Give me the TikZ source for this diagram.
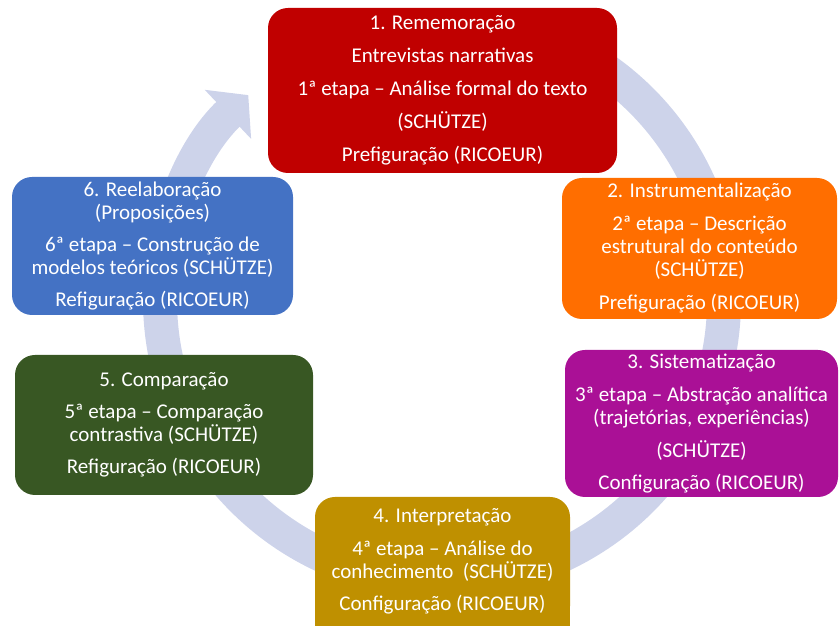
\documentclass[tikz,border=0pt]{standalone}
\usepackage{fontspec}
\setmainfont{Carlito}
\usetikzlibrary{shapes, arrows.meta, positioning}

\definecolor{stagered}{RGB}{192,0,0}
\definecolor{stageorange}{RGB}{255,110,0}
\definecolor{stagemagenta}{RGB}{170,16,150}
\definecolor{stagegold}{RGB}{191,144,0}
\definecolor{stagegreen}{RGB}{56,87,35}
\definecolor{stageblue}{RGB}{68,114,196}
\definecolor{ringblue}{RGB}{205,211,234}

\begin{document}
\begin{tikzpicture}[
    x=1pt, y=1pt
  ]

  % Styles
  \tikzstyle{stage}=[shape=rectangle, rounded corners=20pt, text=white, align=center, inner sep=0pt, font=\fontsize{21}{23}\selectfont]
  \tikzstyle{cycle}=[line width=34pt, ringblue]

  \useasboundingbox (0,0) rectangle (839,626);
  \clip (0,0) rectangle (839,626);

  % Circular arrow behind the stages
  \coordinate (C) at (442,326);
  \draw[cycle, -{Triangle[width=66pt, length=28pt]}] (C) ++(60:282) arc[start angle=60, end angle=-226.6, radius=282];

  % Stages
  \node[stage, fill=stagered, minimum width=349pt, minimum height=165pt] (rememoracao) at (442.5,535.5)
    {1. Rememoração\\[10pt]Entrevistas narrativas\\[10pt]1ª etapa – Análise formal do texto\\[10pt](SCHÜTZE)\\[10pt]Prefiguração (RICOEUR)};

  \node[stage, fill=stageorange, minimum width=275pt, minimum height=141pt] (instrumentalizacao) at (699.5,377.5)
    {2. Instrumentalização\\[10pt]2ª etapa – Descrição\\estrutural do conteúdo\\(SCHÜTZE)\\[10pt]Prefiguração (RICOEUR)};

  \node[stage, fill=stagemagenta, minimum width=273pt, minimum height=147pt] (sistematizacao) at (701.5,202.5)
    {3. Sistematização\\[10pt]3ª etapa – Abstração analítica\\(trajetórias, experiências)\\[10pt](SCHÜTZE)\\[9pt]Configuração (RICOEUR)};

  \fill[stagegold] (315,0) rectangle (570,20); % square bottom edge
  \node[stage, fill=stagegold, minimum width=255pt, minimum height=129pt] (interpretacao) at (442.5,64.5)
    {4. Interpretação\\[10pt]4ª etapa – Análise do\\conhecimento\ \ (SCHÜTZE)\\[9pt]Configuração (RICOEUR)};

  \node[stage, fill=stagegreen, minimum width=298pt, minimum height=140pt] (comparacao) at (164,201)
    {5. Comparação\\[9pt]5ª etapa – Comparação\\contrastiva (SCHÜTZE)\\[9pt]Refiguração (RICOEUR)};

  \node[stage, fill=stageblue, minimum width=281pt, minimum height=138pt] (reelaboracao) at (152.5,380)
    {6. Reelaboração\\(Proposições)\\[9pt]6ª etapa – Construção de\\modelos teóricos (SCHÜTZE)\\[9pt]Refiguração (RICOEUR)};

\end{tikzpicture}
\end{document}
